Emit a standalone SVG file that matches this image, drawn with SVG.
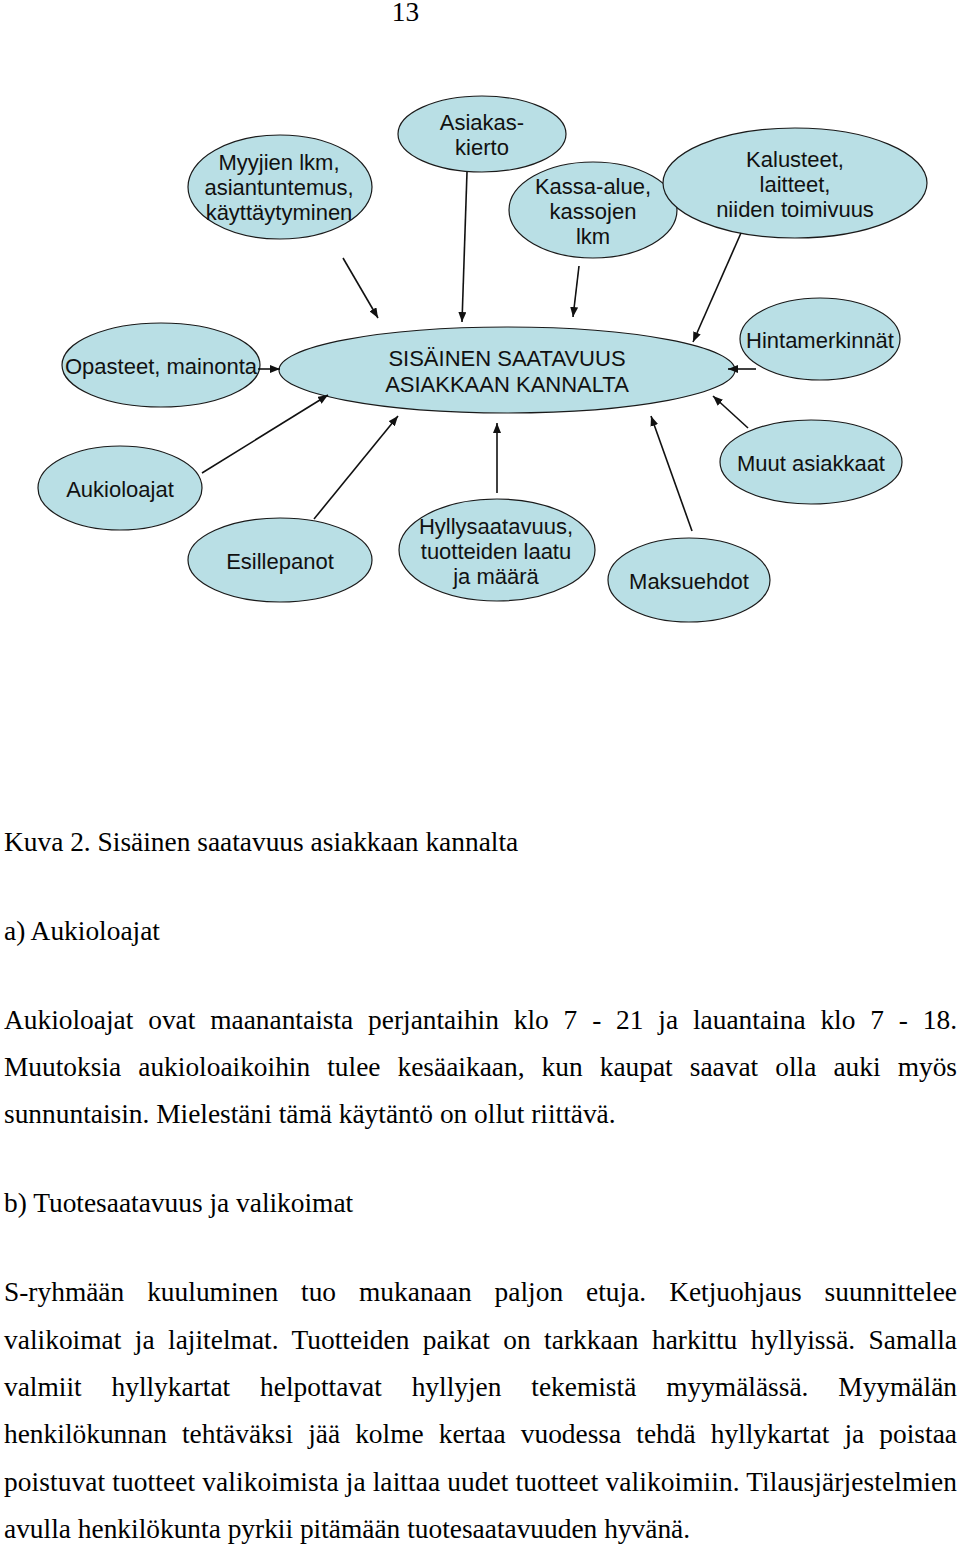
<svg xmlns="http://www.w3.org/2000/svg" width="960" height="1546" viewBox="0 0 960 1546">
<style>
.node ellipse{fill:#b9dfe5;stroke:#1a1a1a;stroke-width:1.2}
.node text{font-family:"Liberation Sans",Arial,sans-serif;font-size:22px;fill:#111;text-anchor:middle}
.conn line{stroke:#111;stroke-width:1.6;marker-end:url(#ah)}
.body{font-family:"Liberation Serif","Times New Roman",serif;font-size:27.4px;fill:#000}
</style>
<defs>
<marker id="ah" markerUnits="userSpaceOnUse" markerWidth="10" markerHeight="8" refX="10" refY="4" orient="auto">
<path d="M0,0 L10,4 L0,8 z" fill="#111"/>
</marker>
</defs>
<rect width="960" height="1546" fill="#fff"/>
<text class="body" x="405.5" y="21" text-anchor="middle">13</text>

<g id="n-myyjien" class="node"><ellipse cx="280" cy="187" rx="92" ry="52"/>
<text x="279" y="170">Myyjien lkm,</text><text x="279" y="195">asiantuntemus,</text><text x="279" y="220">käyttäytyminen</text></g>
<g id="n-asiakaskierto" class="node"><ellipse cx="482" cy="134" rx="84" ry="38"/>
<text x="482" y="130">Asiakas-</text><text x="482" y="155">kierto</text></g>
<g id="n-kassa" class="node"><ellipse cx="593" cy="210" rx="84" ry="48"/>
<text x="593" y="194">Kassa-alue,</text><text x="593" y="219">kassojen</text><text x="593" y="244">lkm</text></g>
<g id="n-kalusteet" class="node"><ellipse cx="795" cy="183" rx="132" ry="55"/>
<text x="795" y="167">Kalusteet,</text><text x="795" y="192">laitteet,</text><text x="795" y="217">niiden toimivuus</text></g>
<g id="n-opasteet" class="node"><ellipse cx="161" cy="365" rx="99" ry="42"/>
<text x="161" y="374">Opasteet, mainonta</text></g>
<g id="n-center" class="node"><ellipse cx="507" cy="370" rx="228" ry="43"/>
<text x="507" y="366">SISÄINEN SAATAVUUS</text><text x="507" y="392">ASIAKKAAN KANNALTA</text></g>
<g id="n-hinta" class="node"><ellipse cx="820" cy="339" rx="80" ry="41"/>
<text x="820" y="348">Hintamerkinnät</text></g>
<g id="n-aukiolo" class="node"><ellipse cx="120" cy="488" rx="82" ry="42"/>
<text x="120" y="497">Aukioloajat</text></g>
<g id="n-muut" class="node"><ellipse cx="811" cy="462" rx="91" ry="42"/>
<text x="811" y="471">Muut asiakkaat</text></g>
<g id="n-esille" class="node"><ellipse cx="280" cy="560" rx="92" ry="42"/>
<text x="280" y="569">Esillepanot</text></g>
<g id="n-hylly" class="node"><ellipse cx="497" cy="550" rx="98" ry="51"/>
<text x="496" y="534">Hyllysaatavuus,</text><text x="496" y="559">tuotteiden laatu</text><text x="496" y="584">ja määrä</text></g>
<g id="n-maksu" class="node"><ellipse cx="689" cy="580" rx="81" ry="42"/>
<text x="689" y="589">Maksuehdot</text></g>

<g id="connectors" class="conn">
<line x1="343" y1="258" x2="378" y2="318"/>
<line x1="467" y1="172" x2="462" y2="322"/>
<line x1="579" y1="266" x2="573" y2="317"/>
<line x1="741" y1="233" x2="693" y2="342"/>
<line x1="756" y1="369" x2="728" y2="369"/>
<line x1="748" y1="428" x2="713" y2="396"/>
<line x1="692" y1="531" x2="651" y2="416"/>
<line x1="497" y1="493" x2="497" y2="423"/>
<line x1="314" y1="519" x2="398" y2="416"/>
<line x1="202" y1="473" x2="328" y2="395"/>
<line x1="258" y1="369" x2="280" y2="369"/>
</g>

<g id="body-text" class="body">
<text x="4" y="851">Kuva 2. Sisäinen saatavuus asiakkaan kannalta</text>
<text x="4" y="940">a) Aukioloajat</text>
<text x="4" y="1029" word-spacing="8" textLength="953" lengthAdjust="spacing">Aukioloajat ovat maanantaista perjantaihin klo 7 - 21 ja lauantaina klo 7 - 18.</text>
<text x="4" y="1076" word-spacing="10.2" textLength="953" lengthAdjust="spacing">Muutoksia aukioloaikoihin tulee kesäaikaan, kun kaupat saavat olla auki myös</text>
<text x="4" y="1123">sunnuntaisin. Mielestäni tämä käytäntö on ollut riittävä.</text>
<text x="4" y="1212">b) Tuotesaatavuus ja valikoimat</text>
<text x="4" y="1301" word-spacing="16.1" textLength="953" lengthAdjust="spacing">S-ryhmään kuuluminen tuo mukanaan paljon etuja. Ketjuohjaus suunnittelee</text>
<text x="4" y="1349" word-spacing="6.5" textLength="953" lengthAdjust="spacing">valikoimat ja lajitelmat. Tuotteiden paikat on tarkkaan harkittu hyllyissä. Samalla</text>
<text x="4" y="1396" word-spacing="23" textLength="953" lengthAdjust="spacing">valmiit hyllykartat helpottavat hyllyjen tekemistä myymälässä. Myymälän</text>
<text x="4" y="1443" word-spacing="8.2" textLength="953" lengthAdjust="spacing">henkilökunnan tehtäväksi jää kolme kertaa vuodessa tehdä hyllykartat ja poistaa</text>
<text x="4" y="1491" textLength="953" lengthAdjust="spacing">poistuvat tuotteet valikoimista ja laittaa uudet tuotteet valikoimiin. Tilausjärjestelmien</text>
<text x="4" y="1538">avulla henkilökunta pyrkii pitämään tuotesaatavuuden hyvänä.</text>
</g>
</svg>
